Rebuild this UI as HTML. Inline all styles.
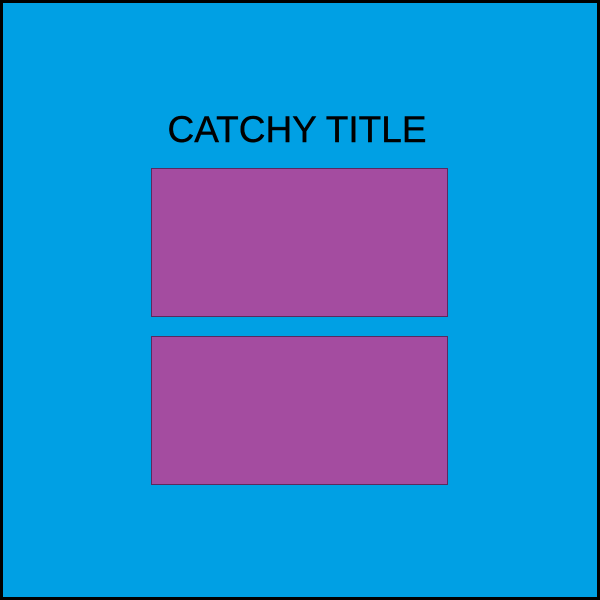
<!DOCTYPE html>
<html><head><meta charset="utf-8"><style>
html,body{margin:0;padding:0}
#frame{position:relative;width:600px;height:600px;box-sizing:border-box;border:3px solid #000;background:#00A0E4;overflow:hidden}
#title{position:absolute;left:0;width:600px;top:107px;text-align:center;font:37px "Liberation Sans",sans-serif;color:#000;line-height:40px;margin-left:-6px;-webkit-text-stroke:0.4px #000}
.box{position:absolute;left:148px;width:295px;height:147px;background:#A44CA0;border:1px solid #5a2a60}
</style></head><body>
<div id="frame">
<div id="title">CATCHY TITLE</div>
<div class="box" style="top:165px"></div>
<div class="box" style="top:333px"></div>
</div>
</body></html>
